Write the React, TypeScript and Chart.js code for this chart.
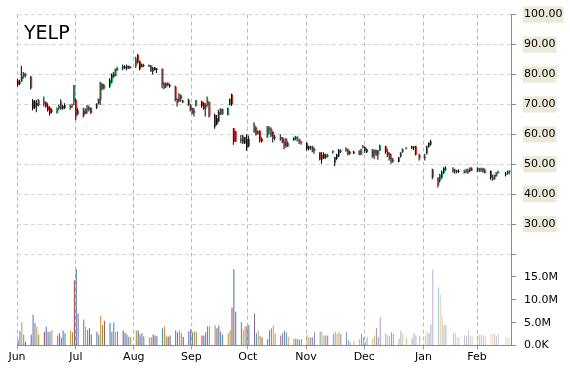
import React, { useEffect, useRef } from "react";
import { Chart, registerables } from "chart.js";

Chart.register(...registerables);

const TITLE = "YELP";
const FIRST_DAY = "2014-06-02";
const LAST_DAY = "2015-02-19";
const HOLIDAYS = ["2014-11-27", "2014-12-25", "2015-01-01", "2015-01-19", "2015-02-16"];
const ORIGIN = "2014-06-01";

const MONTH_LABELS = ["Jun", "Jul", "Aug", "Sep", "Oct", "Nov", "Dec", "Jan", "Feb"];
const MONTH_TICK_DAYS = [0.43, 31.8, 62.7, 93.3, 123.4, 154.5, 185.5, 217.1, 245.6];
const X_MIN = 0.43;
const X_MAX = 263.7;

const PRICE_MIN = 20;
const PRICE_MAX = 100;
const PRICE_STEP = 10;
const VOLUME_MAX = 20e6;
const VOLUME_STEP = 5e6;

// [open, high, low, close] per trading day
const ohlcJun = [
  [78.0, 78.6, 76.0, 76.6], [76.8, 78.2, 76.4, 77.6], [77.8, 82.9, 77.5, 79.3], [79.4, 80.8, 78.6, 80.2], [80.0, 80.6, 79.0, 79.4],
  [79.2, 79.5, 75.0, 75.4], [71.2, 71.8, 68.0, 68.6], [69.0, 71.5, 68.5, 71.0], [70.5, 71.5, 67.4, 69.5], [71.5, 71.8, 69.3, 69.6],
  [70.0, 72.6, 69.3, 71.2], [70.8, 70.9, 68.9, 69.2], [69.5, 70.4, 67.6, 68.0], [69.0, 69.3, 66.3, 67.0], [67.5, 68.7, 67.0, 68.2],
  [67.2, 69.0, 67.0, 68.8], [68.8, 70.0, 68.2, 69.5], [68.5, 71.7, 68.2, 71.0], [69.5, 69.8, 68.2, 68.6], [68.8, 70.4, 68.5, 69.8],
  [69.0, 70.0, 68.2, 69.5],
];
const ohlcJul = [
  [69.5, 70.2, 68.8, 69.8], [70.9, 76.5, 69.8, 76.4], [71.5, 72.0, 64.8, 66.0], [66.8, 68.7, 66.5, 68.0],
  [67.8, 68.9, 65.6, 66.2], [66.8, 68.7, 66.7, 68.5], [68.3, 69.8, 67.0, 69.2], [69.0, 69.6, 67.6, 68.2], [68.9, 69.0, 66.8, 67.1],
  [68.8, 70.4, 68.5, 70.0], [70.2, 72.0, 70.0, 71.8], [71.5, 77.6, 69.8, 77.4], [76.9, 77.0, 74.7, 75.2], [75.3, 76.8, 75.0, 76.4],
  [76.0, 78.7, 75.6, 78.2], [77.2, 80.3, 77.0, 80.0], [80.2, 80.9, 78.7, 79.2], [79.5, 82.0, 79.3, 81.8], [81.5, 82.6, 81.2, 82.0],
  [82.0, 83.3, 81.4, 82.8], [82.6, 83.1, 81.8, 82.2], [82.0, 83.3, 81.4, 82.9], [82.8, 83.0, 81.8, 81.9],
];
const ohlcAug = [
  [82.2, 82.8, 82.0, 82.5],
  [82.8, 85.9, 82.2, 85.2], [86.5, 86.9, 83.7, 84.0], [84.4, 84.6, 81.4, 81.8], [82.5, 83.7, 82.4, 83.3], [83.0, 83.6, 82.4, 82.8],
  [83.2, 83.3, 82.5, 82.6], [83.0, 83.1, 80.9, 81.0], [81.0, 82.5, 80.0, 82.2], [82.4, 82.5, 81.3, 81.5], [81.5, 82.2, 80.5, 82.0],
  [82.0, 82.0, 75.4, 76.5], [75.5, 77.3, 75.1, 77.3], [77.0, 77.3, 75.5, 76.0], [77.2, 77.3, 76.2, 76.3], [76.0, 76.8, 75.6, 76.5],
  [75.9, 76.2, 71.0, 71.5], [72.0, 72.0, 69.3, 70.5], [71.0, 73.7, 70.8, 73.5], [73.0, 73.2, 70.9, 72.0], [71.2, 71.5, 70.4, 70.8],
];
const ohlcSep = [
  [71.5, 72.0, 69.5, 70.0], [70.0, 70.2, 67.6, 68.2], [68.9, 68.9, 66.7, 67.0], [67.2, 68.7, 66.0, 67.8], [69.4, 71.5, 69.3, 71.3],
  [71.0, 71.2, 68.9, 69.5], [70.5, 70.9, 68.2, 68.5], [68.6, 70.4, 66.0, 69.8], [70.0, 72.6, 69.3, 71.5], [70.9, 70.9, 65.6, 66.0],
  [66.5, 67.0, 61.9, 62.5], [65.5, 66.5, 63.0, 63.3], [64.3, 68.2, 64.0, 67.5], [67.0, 68.7, 66.5, 68.5], [68.5, 68.6, 66.5, 66.7],
  [66.5, 69.0, 66.3, 68.9], [70.0, 72.0, 69.6, 71.8], [73.4, 73.6, 69.5, 70.0], [62.0, 62.1, 56.5, 57.5], [61.0, 61.2, 57.4, 57.6],
  [58.5, 59.8, 57.0, 57.8], [59.2, 59.8, 56.8, 57.2],
];
const ohlcOct = [
  [57.0, 59.2, 56.8, 59.0], [58.5, 60.0, 54.5, 55.5], [58.5, 59.6, 55.7, 56.0],
  [60.7, 64.0, 60.5, 63.3], [62.3, 62.6, 59.6, 59.8], [60.2, 61.3, 60.0, 61.0], [61.2, 61.4, 57.3, 57.8], [58.5, 59.0, 57.3, 57.6],
  [59.2, 62.8, 58.8, 62.3], [62.0, 62.8, 60.0, 61.5], [61.8, 62.4, 59.0, 59.5], [60.8, 61.0, 57.3, 58.5], [58.8, 59.8, 58.0, 59.0],
  [59.0, 60.0, 57.9, 58.5], [59.0, 59.1, 57.0, 57.2], [57.5, 58.5, 55.0, 56.0], [58.5, 58.8, 55.5, 56.0], [56.0, 57.5, 55.8, 57.0],
  [58.0, 59.0, 57.9, 58.9], [58.5, 59.5, 58.0, 59.2], [58.6, 59.3, 57.6, 59.3], [58.5, 58.5, 56.8, 57.6], [57.5, 57.9, 56.5, 57.0],
];
const ohlcNov = [
  [57.2, 57.3, 54.6, 55.0], [55.2, 56.2, 54.6, 56.0], [55.5, 56.2, 54.8, 55.8], [56.0, 56.2, 54.0, 54.3], [54.5, 55.5, 53.5, 55.2],
  [54.0, 54.0, 51.3, 51.5], [51.5, 54.0, 50.2, 53.2], [53.5, 54.0, 51.8, 52.0], [52.2, 53.5, 51.8, 53.0], [52.5, 53.5, 52.3, 53.2],
  [54.0, 54.6, 53.5, 54.5], [52.4, 52.4, 49.3, 50.5], [51.8, 53.5, 51.5, 53.3], [52.6, 55.1, 52.4, 54.8], [54.5, 55.0, 53.8, 54.2],
  [54.5, 55.7, 54.2, 55.3], [55.0, 55.2, 52.9, 53.3], [53.5, 54.4, 53.2, 54.2], [54.3, 54.5, 53.4, 53.6],
];
const ohlcDec = [
  [54.5, 54.7, 53.0, 53.3], [53.2, 55.2, 53.0, 55.0], [55.5, 56.4, 55.3, 56.0], [55.8, 56.0, 53.8, 54.5], [55.0, 55.3, 53.8, 54.0],
  [54.5, 55.1, 52.2, 52.5], [53.5, 55.0, 51.8, 54.8], [54.8, 54.9, 52.8, 53.0], [53.2, 54.8, 51.5, 54.5], [54.6, 56.6, 54.4, 56.2],
  [56.0, 56.2, 53.5, 54.0], [54.0, 55.1, 52.4, 53.0], [53.8, 54.0, 51.3, 51.8], [52.3, 53.5, 50.2, 50.8], [51.0, 52.0, 50.5, 51.5],
  [50.8, 52.4, 50.7, 52.3], [52.4, 54.0, 52.3, 53.8], [54.0, 55.3, 53.8, 55.2], [55.3, 55.7, 54.9, 55.5],
  [55.3, 56.2, 55.1, 56.0], [55.9, 56.0, 54.8, 55.5], [56.0, 56.2, 52.9, 53.2],
];
const ohlcJan = [
  [53.2, 53.5, 51.3, 52.0],
  [52.0, 53.5, 51.3, 52.6], [53.5, 56.2, 53.3, 56.0], [55.8, 57.3, 55.6, 57.2], [56.5, 58.2, 56.2, 57.8], [48.3, 48.5, 45.0, 45.5],
  [45.5, 45.7, 42.2, 43.0], [44.6, 46.8, 44.0, 46.5], [45.5, 47.9, 45.2, 47.5], [47.0, 49.0, 46.8, 48.8], [48.5, 49.3, 47.8, 48.2],
  [48.5, 49.0, 47.2, 47.5], [47.5, 48.5, 46.8, 48.0], [47.8, 48.2, 47.0, 47.3], [47.5, 48.3, 47.2, 47.8],
  [47.5, 48.2, 46.9, 47.2], [47.3, 48.5, 47.0, 48.0], [48.0, 48.6, 46.8, 47.2], [48.7, 49.0, 47.4, 47.7], [48.0, 49.0, 47.8, 48.5],
];
const ohlcFeb = [
  [48.2, 49.0, 47.4, 48.6], [48.5, 48.8, 47.4, 48.0], [48.0, 48.8, 47.4, 48.5], [48.7, 48.8, 47.2, 47.5], [47.8, 48.5, 46.9, 47.2],
  [47.8, 47.9, 44.8, 45.5], [45.5, 46.5, 44.5, 45.0], [45.0, 46.6, 44.8, 46.4], [46.0, 47.4, 45.8, 47.1], [47.0, 47.9, 46.8, 47.4],
  [46.5, 47.4, 45.9, 46.8], [47.0, 47.9, 46.5, 47.5], [47.3, 48.0, 46.6, 47.8],
];

// volume, millions of shares
const volJun = [1.2, 3.1, 5.1, 2.4, 0.8, 2.4, 6.7, 4.9, 4.1, 2.4, 3.0, 4.1, 3.0, 3.0, 3.4, 2.2, 2.7, 1.7, 3.3, 2.7, 3.3];
const volJul = [2.9, 14.3, 16.7, 7.0, 5.7, 4.1, 3.4, 3.8, 2.4, 3.0, 2.4, 6.5, 4.5, 5.4, 4.9, 3.0, 5.1, 3.0, 3.1, 3.3, 2.8, 2.4, 1.9];
const volAug = [1.9, 3.3, 3.3, 2.4, 2.7, 2.0, 1.8, 1.8, 2.4, 2.2, 2.0, 3.8, 4.2, 2.2, 1.9, 2.2, 3.3, 2.9, 3.4, 2.8, 1.9];
const volSep = [3.1, 3.6, 2.9, 3.1, 2.9, 2.2, 2.2, 2.9, 4.2, 4.2, 4.4, 3.8, 4.4, 3.0, 2.4, 2.7, 3.3, 8.3, 16.7, 7.4, 5.1, 3.4];
const volOct = [4.2, 4.2, 4.5, 7.0, 2.7, 3.3, 2.2, 1.8, 1.4, 3.4, 3.8, 4.4, 2.7, 2.2, 2.7, 3.2, 2.9, 1.9, 1.5, 1.5, 1.4, 1.2, 1.4];
const volNov = [2.3, 1.8, 1.8, 1.8, 2.9, 3.1, 2.9, 2.2, 2.2, 2.2, 2.5, 3.0, 2.5, 3.0, 2.5, 3.0, 1.2, 0.7, 1.0];
const volDec = [1.3, 2.5, 1.8, 0.8, 1.8, 1.5, 2.2, 3.8, 1.8, 6.2, 2.7, 2.2, 2.2, 2.9, 2.5, 1.5, 3.2, 2.7, 1.8, 1.6, 2.7, 2.2];
const volJan = [2.2, 2.2, 3.0, 2.7, 4.6, 16.7, 12.7, 11.2, 6.4, 4.4, 4.6, 2.7, 2.7, 1.8, 1.8, 2.2, 2.0, 3.3, 2.2, 2.2];
const volFeb = [2.2, 2.3, 2.4, 2.2, 2.2, 2.7, 2.5, 2.5, 2.2, 2.5, 1.8, 1.9, 1.6];

const UP_COLOR = "#00b050";
const DOWN_COLOR = "#ee1111";
const WICK_COLOR = "#000000";
const VOLUME_PALETTE = [
  [123, 94, 163],
  [46, 147, 181],
  [232, 131, 58],
  [127, 159, 69],
  [165, 67, 63],
  [63, 111, 174],
];
const FONT = '"DejaVu Sans", Verdana, sans-serif';

function tradingDays(): number[] {
  const out: number[] = [];
  const DAY = 86400000;
  const origin = Date.parse(ORIGIN + "T00:00:00Z");
  const end = Date.parse(LAST_DAY + "T00:00:00Z");
  for (let t = Date.parse(FIRST_DAY + "T00:00:00Z"); t <= end; t += DAY) {
    const dt = new Date(t);
    const wd = dt.getUTCDay();
    const iso = dt.toISOString().slice(0, 10);
    if (wd !== 0 && wd !== 6 && !HOLIDAYS.includes(iso)) out.push(Math.round((t - origin) / DAY));
  }
  return out;
}

const titlePlugin = {
  id: "cornerTitle",
  afterDatasetsDraw(chart: any) {
    const ctx = chart.ctx;
    ctx.save();
    ctx.font = "19px " + FONT;
    ctx.fillStyle = "#000";
    ctx.textBaseline = "alphabetic";
    ctx.textAlign = "left";
    ctx.fillText(TITLE, 24, 39);
    ctx.restore();
  },
};

export default function App() {
  const canvasRef = useRef<HTMLCanvasElement | null>(null);

  useEffect(() => {
    const canvas = canvasRef.current;
    if (!canvas) return;
    const ohlc = [...ohlcJun, ...ohlcJul, ...ohlcAug, ...ohlcSep, ...ohlcOct, ...ohlcNov, ...ohlcDec, ...ohlcJan, ...ohlcFeb];
    const vols = [...volJun, ...volJul, ...volAug, ...volSep, ...volOct, ...volNov, ...volDec, ...volJan, ...volFeb];
    const days = tradingDays();
    const n = Math.min(days.length, ohlc.length, vols.length);

    const wickData: any[] = [];
    const bodyData: any[] = [];
    const bodyColors: string[] = [];
    const volData: any[] = [];
    const volColors: string[] = [];
    for (let i = 0; i < n; i++) {
      const [o, h, l, c] = ohlc[i];
      const d = days[i];
      wickData.push({ x: d, y: [l, h] });
      bodyData.push({ x: d, y: [o, c] });
      bodyColors.push(c >= o ? UP_COLOR : DOWN_COLOR);
      volData.push({ x: d, y: vols[i] * 1e6 });
      const [r, g, b] = VOLUME_PALETTE[i % VOLUME_PALETTE.length];
      const a = d < 115 ? 1 : Math.max(0.3, 1 - ((d - 115) / 148) * 0.7);
      volColors.push(`rgba(${r},${g},${b},${a.toFixed(2)})`);
    }

    const tickFont = { family: FONT, size: 11 };

    const chart = new Chart(canvas, {
      type: "bar",
      data: {
        datasets: [
          {
            label: "wick",
            data: wickData,
            backgroundColor: WICK_COLOR,
            barThickness: 1,
            stack: "wick",
            yAxisID: "y",
            inflateAmount: 0,
            borderWidth: 0,
          } as any,
          {
            label: "body",
            data: bodyData,
            backgroundColor: bodyColors,
            barThickness: 1,
            stack: "body",
            yAxisID: "y",
            minBarLength: 1,
            inflateAmount: 0,
            borderWidth: 0,
          } as any,
          {
            label: "volume",
            data: volData,
            backgroundColor: volColors,
            grouped: false,
            maxBarThickness: 1,
            yAxisID: "yv",
            inflateAmount: 0,
            borderWidth: 0,
          } as any,
        ],
      },
      options: {
        responsive: false,
        animation: false,
        devicePixelRatio: 1,
        layout: { padding: { left: 17, top: 14, right: -0.5, bottom: 4.3 } },
        plugins: { legend: { display: false }, tooltip: { enabled: false } },
        scales: {
          x: {
            type: "linear",
            min: X_MIN,
            max: X_MAX,
            offset: false,
            afterBuildTicks: (scale: any) => {
              scale.ticks = MONTH_TICK_DAYS.map((v) => ({ value: v }));
            },
            ticks: {
              autoSkip: false,
              maxRotation: 0,
              padding: 1.5,
              color: "#000",
              font: tickFont,
              callback: (_v: any, i: number) => MONTH_LABELS[i],
            },
            grid: {
              offset: false,
              color: "#b8b8b8",
              tickLength: 4,
              tickColor: "#9a9a9a",
              tickBorderDash: [],
            },
            border: { display: true, color: "#8a8a8a", dash: [4, 3] },
          },
          y: {
            type: "linear",
            position: "right",
            stack: "panes",
            stackWeight: 241,
            min: PRICE_MIN,
            max: PRICE_MAX,
            ticks: {
              stepSize: PRICE_STEP,
              autoSkip: false,
              padding: 8,
              color: "#000",
              font: tickFont,
              callback: (v: any) => (v <= PRICE_MIN ? "" : Number(v).toFixed(2)),
              showLabelBackdrop: (ctx: any) => !!ctx.tick && ctx.tick.value > PRICE_MIN,
              backdropColor: "#ece9d8",
              backdropPadding: { top: 1.5, bottom: 1.5, left: 1, right: 1 },
            },
            grid: {
              color: "#d4d4d4",
              tickLength: 5,
              tickColor: "#8a8a8a",
              tickBorderDash: [],
            },
            border: { display: true, color: "#8a8a8a", dash: [4, 3] },
          },
          yv: {
            type: "linear",
            position: "right",
            stack: "panes",
            stackWeight: 92,
            min: 0,
            max: VOLUME_MAX,
            ticks: {
              stepSize: VOLUME_STEP,
              autoSkip: false,
              padding: 8,
              color: "#000",
              font: tickFont,
              callback: (v: any) =>
                v === 0 ? "0.0K" : v >= VOLUME_MAX ? "" : (Number(v) / 1e6).toFixed(1) + "M",
            },
            grid: {
              drawOnChartArea: false,
              tickLength: 5,
              tickColor: "#8a8a8a",
            },
            border: { display: true, color: "#8a8a8a" },
          },
        },
      } as any,
      plugins: [titlePlugin],
    });

    return () => chart.destroy();
  }, []);

  return (
    <div style={{ position: "absolute", left: 0, top: 0, width: 570, height: 370, background: "#fff" }}>
      <canvas ref={canvasRef} width={570} height={370} style={{ width: 570, height: 370, display: "block" }} />
    </div>
  );
}
